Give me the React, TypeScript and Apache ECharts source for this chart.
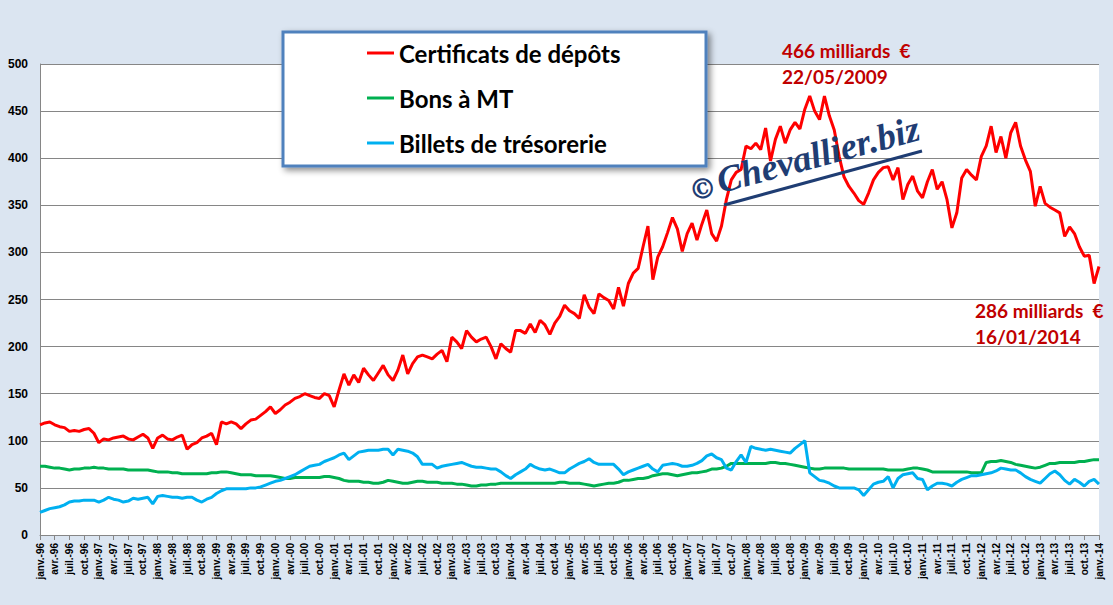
import React, { useEffect, useRef } from "react";
import * as echarts from "echarts";

const mois = ["janv.", "févr.", "mars", "avr.", "mai", "juin", "juil.", "août", "sept.", "oct.", "nov.", "déc."];
const annees = ["96", "97", "98", "99", "00", "01", "02", "03", "04", "05", "06", "07", "08", "09", "10", "11", "12", "13", "14"];
const yTicks = [0, 50, 100, 150, 200, 250, 300, 350, 400, 450, 500];

const certificats = [
  117, 119, 120, 117, 115, 114, 110, 111, 110, 112, 113, 108,
  98, 102, 101, 103, 104, 105, 102, 101, 104, 107, 103, 92,
  103, 106, 102, 101, 104, 106, 91, 96, 98, 103, 105, 108,
  96, 120, 118, 120, 118, 113, 118, 122, 123, 127, 131, 136,
  129, 133, 138, 141, 145, 147, 150, 148, 146, 145, 150, 148,
  136, 154, 171, 159, 170, 162, 177, 170, 164, 172, 180, 170,
  164, 175, 191, 171, 182, 189, 191, 189, 187, 192, 196, 184,
  210, 205, 198, 217, 210, 205, 208, 210, 200, 187, 203, 198,
  194, 217, 217, 214, 224, 215, 228, 223, 213, 225, 232, 244,
  238, 235, 230, 255, 242, 235, 256, 252, 249, 240, 263, 243,
  267, 278, 283, 306, 328, 271, 295, 306, 321, 337, 325, 301,
  320, 331, 313, 330, 345, 320, 312, 328, 356, 377, 385, 388,
  413, 410, 416, 409, 432, 397, 420, 434, 416, 430, 438, 431,
  452, 466, 450, 441, 466, 445, 430, 402, 380, 370, 363, 355,
  351, 363, 377, 385, 390, 391, 377, 390, 356, 372, 381, 365,
  358, 375, 388, 367, 375, 356, 326, 342, 379, 388, 382, 377,
  402, 413, 434, 406, 423, 400, 427, 438, 413, 398, 386, 349,
  370, 352, 348, 345, 342, 317, 327, 320, 306, 296, 297, 267,
  285,
];

const bonsMT = [
  73, 73, 72, 71, 71, 70, 69, 70, 70, 71, 71, 72,
  71, 71, 70, 70, 70, 70, 69, 69, 69, 69, 69, 68,
  67, 67, 67, 66, 66, 65, 65, 65, 65, 65, 65, 66,
  66, 67, 67, 66, 65, 64, 64, 64, 63, 63, 63, 63,
  62, 61, 60, 60, 61, 61, 61, 61, 61, 61, 62, 62,
  61, 60, 58, 57, 57, 57, 56, 56, 55, 55, 56, 58,
  57, 56, 55, 55, 56, 57, 57, 56, 56, 56, 55, 55,
  55, 54, 54, 53, 52, 52, 53, 53, 54, 54, 55, 55,
  55, 55, 55, 55, 55, 55, 55, 55, 55, 55, 56, 56,
  55, 55, 55, 54, 53, 52, 53, 54, 55, 55, 56, 58,
  58, 59, 60, 60, 61, 63, 64, 65, 65, 64, 63, 64,
  65, 66, 66, 67, 68, 70, 70, 71, 73, 76, 76, 76,
  76, 76, 76, 76, 76, 77, 77, 76, 76, 75, 74, 73,
  72, 71, 70, 70, 71, 71, 71, 71, 71, 70, 70, 70,
  70, 70, 70, 70, 70, 69, 69, 69, 69, 70, 71, 71,
  70, 69, 67, 67, 67, 67, 67, 67, 67, 67, 66, 66,
  66, 77, 78, 78, 79, 78, 77, 75, 74, 73, 72, 71,
  72, 74, 76, 76, 77, 77, 77, 77, 78, 78, 79, 80,
  80,
];

const billets = [
  24, 26, 28, 29, 30, 32, 35, 36, 36, 37, 37, 37,
  35, 37, 40, 38, 37, 35, 36, 39, 38, 39, 40, 33,
  41, 42, 41, 40, 40, 39, 40, 40, 37, 35, 38, 40,
  44, 47, 49, 49, 49, 49, 49, 50, 50, 51, 53, 55,
  57, 58, 60, 62, 64, 67, 70, 73, 74, 75, 78, 80,
  82, 85, 87, 80, 84, 88, 89, 90, 90, 90, 91, 91,
  85, 91, 90, 89, 87, 83, 75, 75, 75, 71, 73, 74,
  75, 76, 77, 75, 73, 72, 72, 71, 70, 70, 67, 63,
  60, 64, 67, 70, 75, 72, 70, 69, 70, 68, 66, 66,
  70, 73, 76, 78, 81, 77, 75, 75, 75, 75, 70, 64,
  67, 69, 71, 73, 75, 70, 67, 74, 75, 76, 75, 73,
  73, 74, 76, 79, 84, 86, 82, 80, 71, 69, 78, 85,
  77, 94, 92, 91, 90, 91, 90, 89, 88, 87, 92, 96,
  100, 66, 62, 58, 57, 55, 52, 50, 50, 50, 50, 48,
  42, 48, 54, 56, 57, 62, 50, 60, 64, 65, 66, 60,
  59, 48, 52, 55, 55, 54, 52, 56, 59, 61, 63, 63,
  64, 65, 66, 68, 71, 70, 69, 69, 66, 62, 59, 57,
  55, 60, 65, 68, 64, 58, 54, 59, 56, 52, 57, 59,
  54,
];

const categories: string[] = [];
annees.forEach((a, i) => {
  mois.forEach((m, j) => {
    if (i < annees.length - 1 || j === 0) categories.push(`${m}-${a}`);
  });
});

export default function App() {
  const ref = useRef<HTMLDivElement>(null);

  useEffect(() => {
    document.body.style.margin = "0";
    if (!ref.current) return;
    const chart = echarts.init(ref.current, undefined, { renderer: "svg" });
    const font = "Liberation Sans";
    const lato = "Lato";
    chart.setOption({
      animation: false,
      backgroundColor: "#dbe5f1",
      grid: {
        left: 40,
        right: 14,
        top: 64,
        bottom: 70,
        show: true,
        backgroundColor: "#ffffff",
        borderWidth: 0,
      },
      legend: {
        orient: "vertical",
        left: 362,
        top: 36,
        itemWidth: 27,
        itemHeight: 3,
        itemGap: 21,
        icon: "rect",
        z: 10,
        textStyle: {
          fontFamily: lato,
          fontWeight: "bold",
          fontSize: 24,
          lineHeight: 24,
          color: "#000000",
        },
        data: ["Certificats de dépôts", "Bons à MT", "Billets de trésorerie"],
      },
      xAxis: {
        type: "category",
        boundaryGap: false,
        data: categories,
        axisLine: { lineStyle: { color: "#868686", width: 1 } },
        axisTick: { interval: 2, length: 5, lineStyle: { color: "#868686" } },
        axisLabel: {
          interval: 2,
          rotate: 90,
          margin: 8,
          fontFamily: font,
          fontWeight: "bold",
          fontSize: 10,
          color: "#000000",
        },
        splitLine: { show: false },
      },
      yAxis: {
        type: "value",
        min: yTicks[0],
        max: yTicks[yTicks.length - 1],
        interval: 50,
        axisLine: { show: true, lineStyle: { color: "#868686", width: 1 } },
        axisTick: { show: false },
        axisLabel: {
          margin: 12,
          fontFamily: font,
          fontWeight: "bold",
          fontSize: 12,
          color: "#000000",
        },
        splitLine: { lineStyle: { color: "#868686", width: 1 } },
      },
      series: [
        {
          name: "Billets de trésorerie",
          type: "line",
          data: billets,
          showSymbol: false,
          color: "#00b0f0",
          lineStyle: { width: 3, color: "#00b0f0" },
          z: 3,
        },
        {
          name: "Bons à MT",
          type: "line",
          data: bonsMT,
          showSymbol: false,
          color: "#00b050",
          lineStyle: { width: 3, color: "#00b050" },
          z: 2,
        },
        {
          name: "Certificats de dépôts",
          type: "line",
          data: certificats,
          showSymbol: false,
          color: "#ff0000",
          lineStyle: { width: 3, color: "#ff0000" },
          z: 4,
        },
      ],
      graphic: [
        {
          type: "rect",
          z: 8,
          shape: { x: 283, y: 32, width: 423, height: 134 },
          style: {
            fill: "#ffffff",
            stroke: "#4f81bd",
            lineWidth: 3,
            shadowBlur: 6,
            shadowOffsetX: 3,
            shadowOffsetY: 3,
            shadowColor: "rgba(0,0,0,0.45)",
          },
        },
        {
          type: "text",
          z: 9,
          left: 782,
          top: 41,
          style: {
            text: "466 milliards  €",
            fill: "#c00000",
            font: `bold 19px ${lato}`,
          },
        },
        {
          type: "text",
          z: 9,
          left: 782,
          top: 67,
          style: {
            text: "22/05/2009",
            fill: "#c00000",
            font: `bold 19px ${lato}`,
          },
        },
        {
          type: "text",
          z: 9,
          left: 975,
          top: 301,
          style: {
            text: "286 milliards  €",
            fill: "#c00000",
            font: `bold 19px ${lato}`,
          },
        },
        {
          type: "text",
          z: 9,
          left: 975,
          top: 327,
          style: {
            text: "16/01/2014",
            fill: "#c00000",
            font: `bold 19px ${lato}`,
          },
        },
        {
          type: "text",
          z: 9,
          x: 693,
          y: 206,
          rotation: 0.26,
          style: {
            text: "©",
            fill: "#1f3d73",
            font: `bold 28px "DejaVu Serif"`,
            verticalAlign: "bottom",
          },
        },
        {
          type: "text",
          z: 9,
          x: 722,
          y: 199,
          rotation: 0.26,
          style: {
            text: "Chevallier.biz",
            fill: "#1f3d73",
            font: `italic bold 37px "Liberation Serif"`,
            verticalAlign: "bottom",
          },
        },
        {
          type: "line",
          z: 9,
          shape: { x1: 724, y1: 205, x2: 922, y2: 151 },
          style: { stroke: "#1f3d73", lineWidth: 3 },
        },
      ],
    });
    return () => chart.dispose();
  }, []);

  return <div ref={ref} style={{ width: 1113, height: 605 }} />;
}
